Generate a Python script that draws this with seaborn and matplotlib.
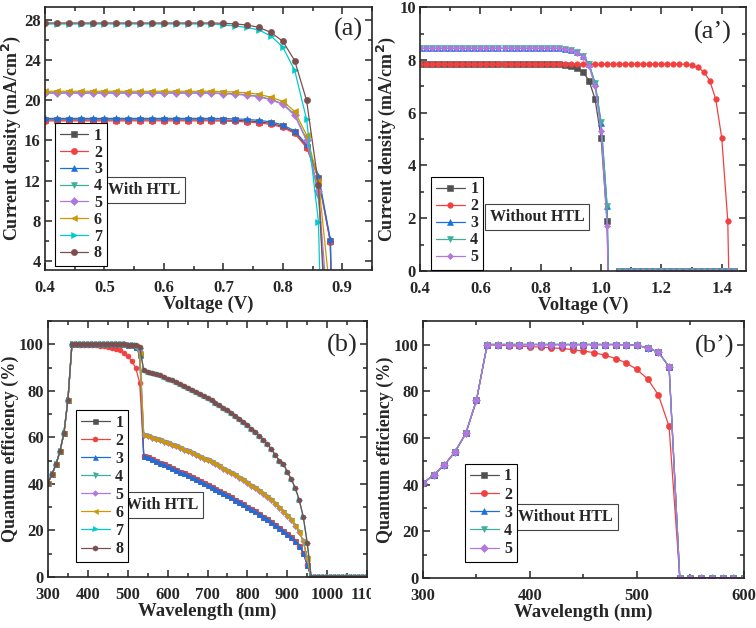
import numpy as np
import seaborn as sns
import matplotlib.pyplot as plt
from matplotlib.ticker import MultipleLocator
from matplotlib.transforms import Bbox, TransformedBbox

# ---- J-V with HTL (a) ----
volt_a = np.round(np.arange(0.40, 0.905, 0.02), 2)
ja_1 = [18.05] * 15 + [18.03, 18.0, 17.95, 17.85, 17.7, 17.4, 16.8, 15.4, 12.3, 5.95, -60]
ja_2 = [17.95] * 15 + [17.93, 17.9, 17.85, 17.75, 17.6, 17.3, 16.7, 15.3, 12.2, 5.85, -60]
ja_3 = [18.2] * 15 + [18.18, 18.15, 18.1, 18.0, 17.85, 17.55, 16.95, 15.6, 12.5, 6.15, -55]
ja_4 = [20.75] * 15 + [20.7, 20.65, 20.55, 20.4, 20.1, 19.65, 18.6, 16.1, 10.5, -7, -60]
ja_5 = [20.7] * 15 + [20.66, 20.6, 20.5, 20.35, 20.05, 19.6, 18.5, 16.0, 11.0, -4, -60]
ja_6 = [20.9] * 15 + [20.86, 20.82, 20.75, 20.6, 20.3, 19.9, 18.9, 16.55, 12.0, 0.5, -60]
ja_7 = [27.6] * 15 + [27.5, 27.4, 27.25, 27.0, 26.4, 25.3, 23.0, 18.1, 7.9, -40, -80]
ja_8 = [27.7] * 15 + [27.67, 27.6, 27.5, 27.26, 26.76, 25.88, 23.96, 20.0, 11.6, -12, -60]

# ---- J-V without HTL (a') ----
volt_a2 = np.round(np.arange(0.40, 1.445, 0.02), 2)
jb_1 = [7.84] * 24 + [7.8, 7.78, 7.7, 7.55, 7.22, 6.52, 5.06, 1.9, -10] + [0.0] * 20
jb_2 = [7.84] * 45 + [7.8, 7.72, 7.56, 7.22, 6.52, 5.05, 1.9, -10]
jb_3 = [8.44] * 24 + [8.43, 8.38, 8.3, 8.15, 7.85, 7.12, 5.62, 2.45, -10] + [0.0] * 20
jb_4 = [8.44] * 24 + [8.43, 8.38, 8.3, 8.15, 7.85, 7.14, 5.65, 2.48, -10] + [0.0] * 20
jb_5 = [8.44] * 24 + [8.42, 8.36, 8.28, 8.12, 7.78, 7.0, 5.32, 1.72, -10] + [0.0] * 20

# ---- QE with HTL (b) ----
wl_b = np.arange(300, 1101, 10)
qe_rise = [40.5, 44.2, 48.4, 54.1, 61.9, 76.2, 100.0]
pre_flat8 = [100.0] * 13 + [99.9, 99.8, 99.6, 99.0]
pre_flat7 = [100.0] * 13 + [99.9, 99.8, 99.5, 98.3]
pre_flat6 = [100.0] * 13 + [99.8, 99.6, 99.2, 96.3]
pre_flat5 = [100.0] * 13 + [99.8, 99.6, 99.2, 97.0]
pre_flat4 = [100.0] * 13 + [99.8, 99.7, 99.3, 97.5]
pre_flat3 = [100.0] * 13 + [99.8, 99.5, 99.0, 95.2]
pre_flat1 = [100.0] * 13 + [99.8, 99.5, 99.0, 96.0]
pre_red = [100.0, 99.9, 99.9, 99.8, 99.7, 99.6, 99.4, 99.2, 98.9, 98.5, 98.0, 97.4,
           96.3, 94.8, 92.8, 89.9, 83.3]
tail_upper = [88.8, 88.3, 87.8, 87.2, 86.6, 85.9, 85.2, 84.5, 83.8, 83.0, 82.2, 81.4,
              80.5, 79.6, 78.7, 77.8, 76.9, 75.9, 74.9, 73.8, 72.7, 71.6, 70.4, 69.2,
              67.9, 66.5, 65.2, 63.8, 62.3, 60.7, 59.0, 57.1, 54.9, 52.5, 50.0, 48.6,
              45.3, 42.0, 38.3, 33.0, 26.0, 14.7]
tail_middle = [61.0, 60.5, 59.9, 59.3, 58.7, 58.1, 57.5, 56.8, 56.1, 55.4, 54.7, 54.0,
               53.3, 52.5, 51.7, 50.9, 50.1, 49.3, 48.4, 47.5, 46.6, 45.7, 44.7, 43.7,
               42.6, 41.5, 40.4, 39.3, 38.1, 36.9, 35.6, 34.3, 32.9, 31.4, 29.8, 28.1,
               26.3, 24.3, 22.0, 19.3, 15.4, 8.2]
tail_lower = [52.2, 51.5, 50.8, 50.0, 49.2, 48.4, 47.6, 46.9, 46.1, 45.3, 44.5, 43.7,
              42.9, 42.1, 41.2, 40.4, 39.5, 38.7, 37.8, 36.9, 36.0, 35.1, 34.2, 33.2,
              32.2, 31.2, 30.2, 29.2, 28.2, 27.1, 26.0, 24.9, 23.7, 22.5, 21.2, 19.9,
              18.5, 17.1, 15.5, 13.3, 10.4, 5.3]
qe_zero_b = [0.0] * 15

qb_1 = qe_rise + pre_flat1 + tail_lower + qe_zero_b
qb_2 = qe_rise + pre_red + tail_lower + qe_zero_b
qb_3 = qe_rise + pre_flat3 + tail_lower + qe_zero_b
qb_4 = qe_rise + pre_flat4 + tail_middle + qe_zero_b
qb_5 = qe_rise + pre_flat5 + tail_middle + qe_zero_b
qb_6 = qe_rise + pre_flat6 + tail_middle + qe_zero_b
qb_7 = qe_rise + pre_flat7 + tail_upper + qe_zero_b
qb_8 = qe_rise + pre_flat8 + tail_upper + qe_zero_b

# ---- QE without HTL (b') ----
wl_b2 = np.arange(300, 601, 10)
pre_noh = [100.0] * 12 + [99.9, 99.6, 98.6, 96.7, 90.5]
pre_noh_red = [99.7, 99.5, 99.3, 99.1, 98.9, 98.6, 98.3, 97.8, 97.2, 96.5, 95.4, 94.0,
               92.1, 89.3, 85.2, 78.4, 64.9]
qe_zero_b2 = [0.0] * 7
qc_1 = qe_rise + pre_noh + qe_zero_b2
qc_2 = qe_rise + pre_noh_red + qe_zero_b2
qc_3 = qe_rise + pre_noh + qe_zero_b2
qc_4 = qe_rise + pre_noh + qe_zero_b2
qc_5 = qe_rise + pre_noh + qe_zero_b2

colors = ['#515151', '#F14040', '#1A6FDF', '#3DAF9A', '#B177DE', '#CC9900', '#00CBCC', '#7D4E4E']
markers = ['s', 'o', '^', 'v', 'D', '<', '>', 'o']

sns.set_style("ticks")
plt.rcParams['font.family'] = ['Liberation Serif', 'DejaVu Serif']
plt.rcParams['font.weight'] = 'bold'
plt.rcParams['axes.labelweight'] = 'bold'
plt.rcParams['axes.linewidth'] = 1.2

fig = plt.figure(figsize=(7.56, 6.28), dpi=100)
ax_a = fig.add_axes([0.0595, 0.570, 0.4325, 0.419])
ax_a2 = fig.add_axes([0.5556, 0.5685, 0.431, 0.420])
ax_b = fig.add_axes([0.0635, 0.0812, 0.422, 0.4076])
ax_b2 = fig.add_axes([0.5595, 0.0796, 0.4246, 0.409])


def draw(ax, x, series, ms):
    for i, y in enumerate(series):
        sns.lineplot(x=x, y=y, ax=ax, color=colors[i], marker=markers[i],
                     markersize=ms * (0.8 if markers[i] == 'D' else 1.0),
                     markeredgewidth=0.4, markeredgecolor=colors[i],
                     linewidth=0.9, label=str(i + 1), estimator=None, sort=False)


def style(ax, xmaj, xmin, ymaj, ymin):
    ax.xaxis.set_major_locator(MultipleLocator(xmaj))
    ax.xaxis.set_minor_locator(MultipleLocator(xmin))
    ax.yaxis.set_major_locator(MultipleLocator(ymaj))
    ax.yaxis.set_minor_locator(MultipleLocator(ymin))
    ax.tick_params(which='both', direction='in', top=True, right=True,
                   labelsize=12, width=1.1, pad=3)
    ax.tick_params(axis='x', pad=7)
    ax.tick_params(which='major', length=5)
    ax.tick_params(which='minor', length=3)


def legend_box(ax, anchor, tag, tag_xy, panel, panel_xy, spacing):
    ax.legend(loc='lower left', bbox_to_anchor=anchor, borderaxespad=0,
              fancybox=False, edgecolor='black', framealpha=1,
              prop={'weight': 'bold', 'size': 11.5}, handlelength=1.8,
              handletextpad=0.35, labelspacing=spacing, borderpad=0.3)
    ax.get_legend().get_frame().set_linewidth(0.8)
    ax.text(tag_xy[0], tag_xy[1], tag, transform=ax.transAxes, ha='center', va='center',
            fontsize=11.5, fontweight='bold',
            bbox=dict(boxstyle='square,pad=0.3', fc='white', ec='#444444', lw=0.8))
    ax.text(panel_xy[0], panel_xy[1], panel, transform=ax.transAxes, ha='center',
            va='center', fontsize=19, fontweight='normal')


# (a)
draw(ax_a, volt_a, [ja_1, ja_2, ja_3, ja_4, ja_5, ja_6, ja_7, ja_8], 4.5)
ax_a.set_xlim(0.4, 0.95)
ax_a.set_ylim(3.1, 29.3)
style(ax_a, 0.1, 0.05, 4, 2)
ax_a.set_xlabel('Voltage (V)', fontsize=13.5, labelpad=0)
ax_a.set_ylabel('Current density (mA/cm$^\\mathbf{2}$)', fontsize=13, labelpad=1)
legend_box(ax_a, (0.03, 0.015), 'With HTL', (0.303, 0.304), '(a)', (0.927, 0.913), 0.05)

# (a')
draw(ax_a2, volt_a2, [jb_1, jb_2, jb_3, jb_4, jb_5], 4.0)
ax_a2.set_xlim(0.4, 1.48)
ax_a2.set_ylim(0, 10)
style(ax_a2, 0.2, 0.1, 2, 1)
ax_a2.set_xlabel('Voltage (V)', fontsize=13.5, labelpad=0)
ax_a2.set_ylabel('Current density (mA/cm$^\\mathbf{2}$)', fontsize=13, labelpad=1)
legend_box(ax_a2, (0.034, 0.004), 'Without HTL', (0.359, 0.205), '(a\u2019)', (0.899, 0.905), 0.06)

# (b)
draw(ax_b, wl_b, [qb_1, qb_2, qb_3, qb_4, qb_5, qb_6, qb_7, qb_8], 3.6)
ax_b.set_xlim(300, 1100)
ax_b.set_ylim(0, 110)
style(ax_b, 100, 50, 20, 10)
ax_b.set_xlabel('Wavelength (nm)', fontsize=13.5, labelpad=0)
ax_b.set_ylabel('Quantum efficiency (%)', fontsize=13, labelpad=0)
legend_box(ax_b, (0.088, 0.059), 'With HTL', (0.357, 0.281), '(b)', (0.922, 0.906), 0.13)

# (b')
draw(ax_b2, wl_b2, [qc_1, qc_2, qc_3, qc_4, qc_5], 4.5)
ax_b2.set_xlim(300, 600)
ax_b2.set_ylim(0, 110)
style(ax_b2, 100, 50, 20, 10)
ax_b2.set_xlabel('Wavelength (nm)', fontsize=13.5, labelpad=0)
ax_b2.set_ylabel('Quantum efficiency (%)', fontsize=13, labelpad=0)
legend_box(ax_b2, (0.131, 0.062), 'Without HTL', (0.445, 0.237), '(b\u2019)', (0.91, 0.9), 0.14)

fig.canvas.draw()
for ax in [ax_a, ax_a2, ax_b, ax_b2]:
    for lbl in ax.get_xticklabels() + ax.get_yticklabels():
        lbl.set_fontweight('bold')

# the last wavelength label is cut off by the neighbouring panel in the original
clip = TransformedBbox(Bbox.from_extents(0, 0, 0.491, 1), fig.transFigure)
for lbl in ax_b.get_xticklabels():
    lbl.set_clip_box(clip)
    lbl.set_clip_on(True)

fig.savefig('out.png', dpi=100)
